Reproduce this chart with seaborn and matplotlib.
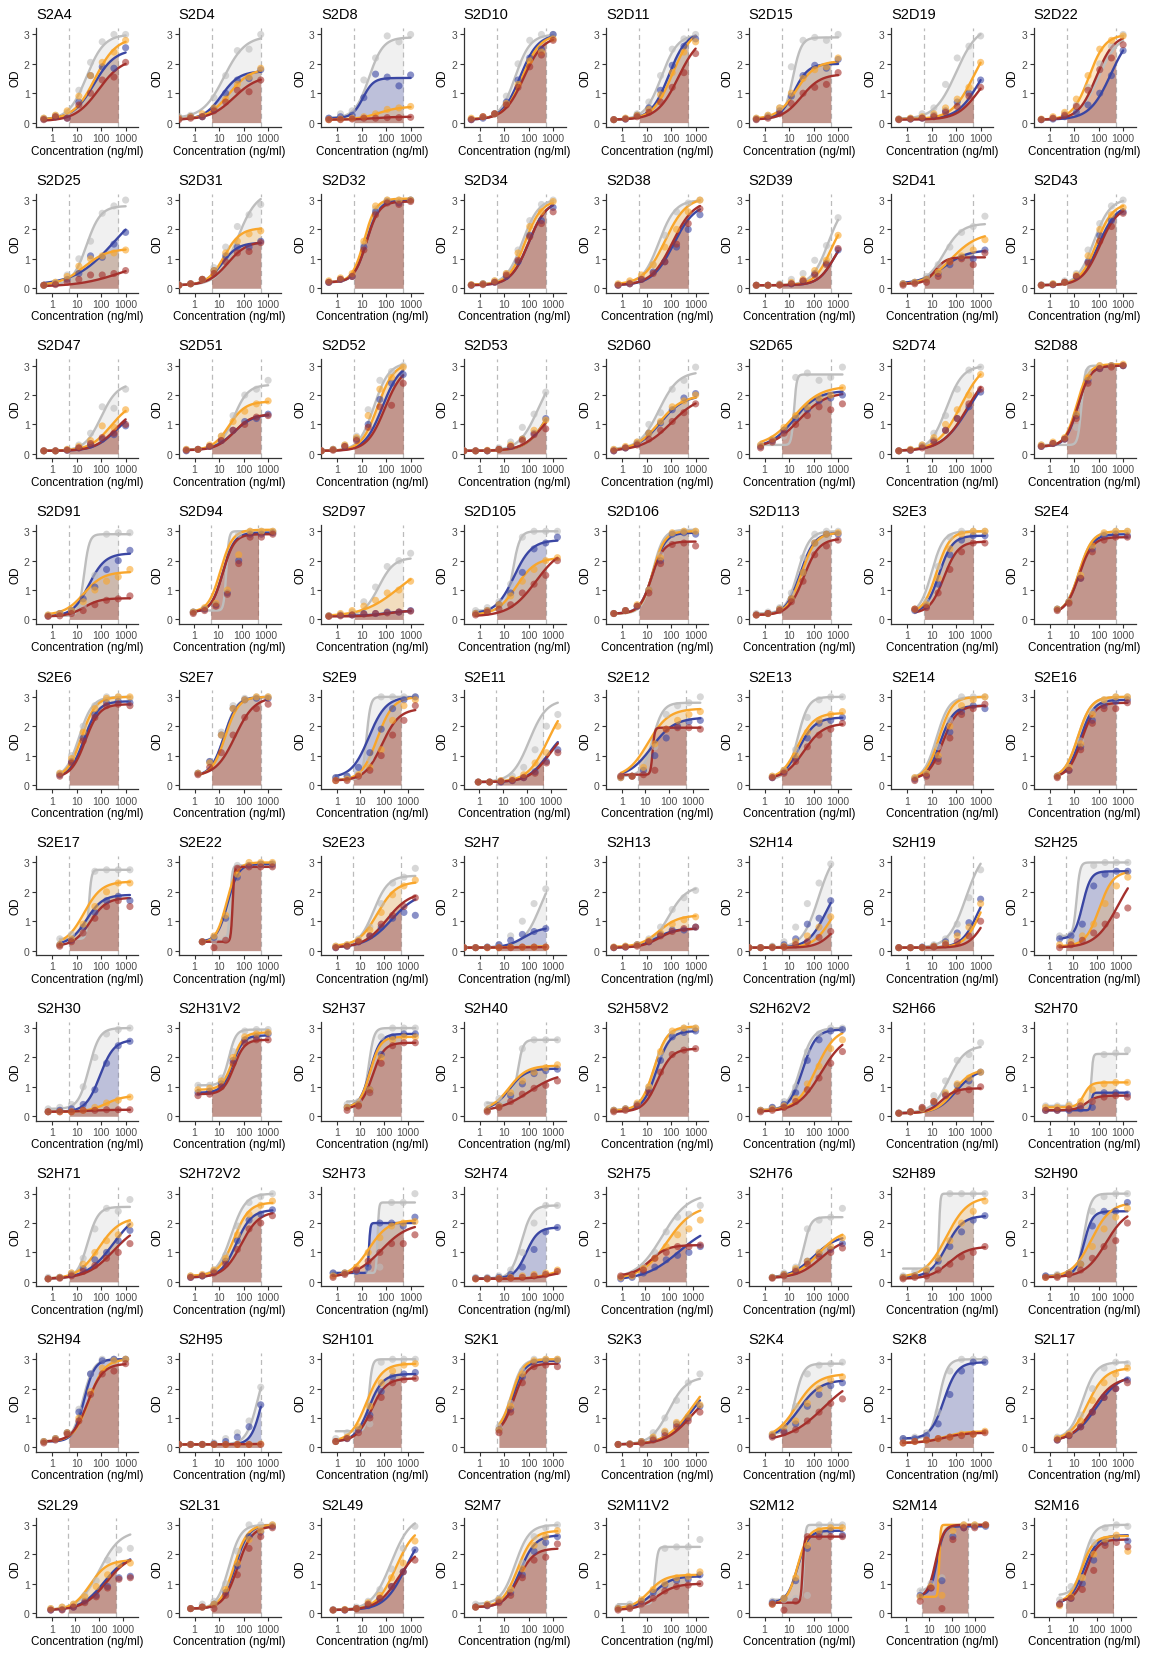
import numpy as np
import pandas as pd
import matplotlib
matplotlib.use("Agg")
import matplotlib.pyplot as plt
from matplotlib.ticker import NullLocator, FixedLocator, FixedFormatter
import seaborn as sns

sns.set_theme(style="white")
plt.rcParams["font.family"] = ["Liberation Sans", "DejaVu Sans"]

# ---------------- data ----------------
names = ["S2A4", "S2D4", "S2D8", "S2D10", "S2D11", "S2D15", "S2D19", "S2D22",
         "S2D25", "S2D31", "S2D32", "S2D34", "S2D38", "S2D39", "S2D41", "S2D43",
         "S2D47", "S2D51", "S2D52", "S2D53", "S2D60", "S2D65", "S2D74", "S2D88",
         "S2D91", "S2D94", "S2D97", "S2D105", "S2D106", "S2D113", "S2E3", "S2E4",
         "S2E6", "S2E7", "S2E9", "S2E11", "S2E12", "S2E13", "S2E14", "S2E16",
         "S2E17", "S2E22", "S2E23", "S2H7", "S2H13", "S2H14", "S2H19", "S2H25",
         "S2H30", "S2H31V2", "S2H37", "S2H40", "S2H58V2", "S2H62V2", "S2H66", "S2H70",
         "S2H71", "S2H72V2", "S2H73", "S2H74", "S2H75", "S2H76", "S2H89", "S2H90",
         "S2H94", "S2H95", "S2H101", "S2K1", "S2K3", "S2K4", "S2K8", "S2L17",
         "S2L29", "S2L31", "S2L49", "S2M7", "S2M11V2", "S2M12", "S2M14", "S2M16"]

# highest concentration of each 3-fold dilution series (ng/ml), 8 points per series
top_conc = [1000, 500, 1000, 1000, 1000, 1000, 1000, 1000,
            1000, 500, 1000, 1000, 1500, 1000, 1500, 1000,
            1000, 1000, 500, 500, 1000, 1500, 1000, 1000,
            1500, 2000, 1000, 1500, 1000, 1000, 1500, 1500,
            1500, 1000, 2000, 2000, 2000, 1500, 1500, 1500,
            1500, 1500, 2000, 500, 1000, 500, 1000, 2000,
            1500, 1000, 2000, 1500, 1000, 1500, 1000, 1500,
            1500, 1500, 1500, 1500, 2000, 1500, 1500, 1500,
            1000, 500, 2000, 1500, 1500, 1500, 1500, 1500,
            2000, 1500, 1500, 1500, 1500, 1500, 3000, 2000]

# fitted 4PL parameters: (bottom, top, log10 EC50, hill)
fit_gray = [
    (0.10, 3.00, 1.40, 1.2), (0.15, 2.95, 1.20, 1.0), (0.15, 2.90, 1.30, 1.5), (0.10, 3.00, 1.45, 1.4),
    (0.10, 3.00, 1.60, 1.3), (0.15, 2.90, 1.15, 2.5), (0.12, 3.30, 2.00, 1.0), (0.10, 3.00, 2.00, 1.1),
    (0.10, 2.80, 1.40, 1.5), (0.10, 3.30, 1.75, 1.1), (0.20, 3.00, 1.15, 1.9), (0.12, 3.05, 1.75, 1.3),
    (0.12, 3.00, 1.50, 1.3), (0.10, 3.00, 2.60, 1.3), (0.15, 2.20, 1.50, 1.2), (0.10, 3.05, 1.80, 1.3),
    (0.10, 2.40, 2.00, 1.3), (0.15, 2.35, 1.60, 1.5), (0.10, 3.10, 1.50, 1.4), (0.10, 3.00, 2.40, 1.1),
    (0.15, 2.80, 1.50, 1.1), (0.30, 2.70, 1.20, 8.0), (0.10, 3.00, 1.60, 1.3), (0.30, 3.00, 1.30, 6.0),
    (0.12, 2.90, 1.30, 4.0), (0.30, 3.00, 1.35, 8.0), (0.12, 2.10, 1.70, 1.4), (0.30, 3.00, 1.35, 3.0),
    (0.20, 3.05, 1.25, 2.0), (0.20, 3.00, 1.35, 1.8), (0.20, 3.00, 1.00, 1.8), (0.20, 3.00, 1.20, 1.6),
    (0.25, 3.00, 1.10, 1.6), (0.30, 3.00, 1.20, 1.7), (0.20, 3.00, 1.25, 5.0), (0.10, 2.90, 2.10, 1.2),
    (0.30, 2.80, 1.30, 2.0), (0.20, 3.00, 1.35, 2.0), (0.20, 3.00, 1.20, 1.7), (0.25, 3.00, 1.15, 1.6),
    (0.40, 2.75, 1.50, 8.0), (0.35, 2.90, 1.45, 10.0), (0.15, 2.55, 1.55, 1.4), (0.10, 3.00, 2.50, 1.2),
    (0.12, 2.20, 1.90, 1.2), (0.10, 3.50, 2.20, 1.3), (0.10, 3.50, 2.40, 1.2), (0.50, 3.00, 1.15, 6.0),
    (0.25, 3.00, 1.50, 2.0), (1.05, 2.95, 1.40, 3.0), (0.50, 3.00, 1.35, 4.0), (0.45, 2.60, 1.55, 4.0),
    (0.20, 3.00, 1.30, 1.7), (0.20, 3.00, 1.45, 1.7), (0.12, 2.40, 1.70, 1.3), (0.35, 2.12, 1.70, 12.0),
    (0.10, 2.55, 1.45, 2.0), (0.20, 3.00, 1.50, 1.5), (0.30, 2.70, 1.65, 15.0), (0.10, 2.60, 1.70, 2.0),
    (0.10, 3.00, 1.70, 0.8), (0.15, 2.20, 1.60, 3.0), (0.45, 3.00, 1.30, 15.0), (0.20, 3.00, 1.40, 3.0),
    (0.20, 3.00, 1.25, 2.0), (0.10, 3.30, 2.60, 1.8), (0.55, 3.00, 1.35, 6.0), (0.60, 3.00, 1.30, 2.0),
    (0.10, 2.40, 1.90, 1.2), (0.45, 2.85, 1.25, 2.5), (0.30, 3.00, 1.30, 2.5), (0.30, 2.90, 1.35, 1.6),
    (0.10, 2.80, 2.00, 1.0), (0.15, 3.00, 1.40, 1.8), (0.10, 3.30, 2.20, 1.1), (0.30, 3.00, 1.45, 1.5),
    (0.30, 2.25, 1.35, 8.0), (0.45, 3.00, 1.60, 12.0), (0.75, 3.00, 1.35, 3.0), (0.60, 3.00, 1.45, 2.0)]

fit_blue = [
    (0.10, 2.50, 1.70, 1.0), (0.10, 1.75, 1.10, 1.2), (0.15, 1.52, 1.05, 2.0), (0.10, 3.00, 1.65, 1.2),
    (0.10, 3.10, 1.90, 1.2), (0.12, 2.00, 1.20, 1.5), (0.12, 2.50, 2.90, 1.0), (0.10, 3.20, 2.50, 1.0),
    (0.10, 3.00, 2.50, 0.55), (0.10, 1.55, 1.10, 1.3), (0.20, 3.00, 1.20, 1.7), (0.10, 3.00, 2.00, 1.2),
    (0.10, 2.90, 2.10, 1.0), (0.10, 2.00, 2.85, 1.3), (0.15, 1.30, 1.50, 0.9), (0.10, 2.85, 2.00, 1.2),
    (0.10, 1.50, 2.60, 1.0), (0.12, 1.35, 1.60, 1.1), (0.10, 3.10, 1.85, 1.2), (0.10, 2.50, 2.80, 1.0),
    (0.10, 2.00, 1.55, 0.9), (0.20, 2.15, 1.20, 0.9), (0.10, 3.00, 2.50, 0.8), (0.25, 3.00, 1.15, 1.8),
    (0.10, 2.25, 1.50, 1.3), (0.25, 2.95, 1.20, 1.8), (0.12, 0.30, 2.00, 1.0), (0.20, 2.70, 1.40, 1.2),
    (0.20, 2.95, 1.25, 1.7), (0.15, 2.95, 1.45, 1.5), (0.20, 2.85, 1.30, 1.6), (0.20, 2.90, 1.20, 1.6),
    (0.25, 2.85, 1.30, 1.5), (0.30, 3.00, 1.20, 1.6), (0.25, 3.00, 1.35, 1.2), (0.10, 2.00, 2.90, 1.0),
    (0.25, 2.30, 1.25, 0.9), (0.20, 2.30, 1.40, 1.3), (0.20, 2.70, 1.35, 1.6), (0.25, 2.90, 1.25, 1.6),
    (0.20, 1.90, 1.40, 1.3), (0.30, 2.95, 1.35, 2.0), (0.10, 2.00, 2.30, 0.8), (0.10, 0.80, 1.80, 1.2),
    (0.10, 0.75, 1.40, 1.2), (0.10, 2.50, 2.50, 1.2), (0.10, 2.50, 2.90, 1.3), (0.40, 2.70, 1.40, 2.5),
    (0.15, 2.60, 1.95, 1.5), (0.80, 2.75, 1.55, 2.0), (0.30, 2.80, 1.40, 2.0), (0.20, 1.62, 1.20, 1.3),
    (0.20, 2.90, 1.40, 1.6), (0.20, 2.95, 1.55, 1.6), (0.10, 1.60, 2.00, 1.1), (0.20, 0.80, 1.70, 12.0),
    (0.10, 2.50, 2.50, 0.8), (0.15, 2.45, 1.70, 1.4), (0.30, 2.00, 1.30, 15.0), (0.12, 1.85, 1.90, 1.8),
    (0.05, 2.00, 2.40, 0.6), (0.12, 1.60, 2.00, 0.9), (0.15, 2.25, 1.60, 1.3), (0.20, 2.40, 1.40, 2.5),
    (0.20, 3.00, 1.30, 2.0), (0.10, 3.00, 2.75, 2.0), (0.20, 2.50, 1.35, 1.5), (0.50, 2.95, 1.35, 1.8),
    (0.10, 2.50, 2.90, 0.8), (0.30, 2.30, 1.40, 1.0), (0.30, 2.90, 1.50, 1.6), (0.20, 2.50, 1.90, 0.9),
    (0.10, 2.00, 2.20, 0.9), (0.15, 3.00, 1.65, 1.6), (0.10, 3.00, 2.80, 1.0), (0.20, 2.65, 1.65, 1.4),
    (0.15, 1.25, 1.30, 1.2), (0.35, 2.80, 1.35, 2.0), (0.60, 2.95, 1.35, 3.0), (0.30, 2.65, 1.45, 1.5)]

fit_orange = [
    (0.10, 2.90, 1.75, 1.0), (0.10, 1.85, 1.40, 1.0), (0.10, 0.55, 1.70, 1.0), (0.12, 3.00, 1.75, 1.2),
    (0.10, 3.20, 2.05, 1.1), (0.12, 2.10, 1.30, 1.1), (0.12, 3.00, 2.70, 1.0), (0.10, 3.00, 1.60, 1.3),
    (0.10, 1.35, 1.30, 0.9), (0.10, 2.05, 1.20, 1.3), (0.20, 3.05, 1.10, 1.8), (0.12, 3.00, 1.85, 1.3),
    (0.12, 3.10, 1.75, 1.0), (0.10, 2.50, 2.70, 1.3), (0.10, 1.90, 1.80, 0.8), (0.10, 2.90, 1.90, 1.3),
    (0.10, 1.80, 2.40, 1.0), (0.12, 1.78, 1.40, 1.3), (0.10, 3.10, 1.65, 1.3), (0.10, 2.50, 2.80, 1.0),
    (0.10, 2.00, 1.50, 0.9), (0.25, 2.30, 1.20, 0.8), (0.10, 3.20, 2.20, 0.9), (0.25, 3.05, 1.10, 1.8),
    (0.15, 1.62, 1.30, 1.1), (0.25, 3.05, 1.10, 1.7), (0.10, 2.00, 2.50, 0.6), (0.15, 2.10, 1.50, 1.1),
    (0.20, 3.00, 1.25, 1.8), (0.15, 2.95, 1.50, 1.5), (0.20, 3.00, 1.20, 1.6), (0.20, 3.00, 1.20, 1.6),
    (0.25, 3.00, 1.20, 1.5), (0.30, 3.00, 1.25, 1.6), (0.15, 3.00, 1.70, 1.3), (0.10, 3.00, 2.90, 1.0),
    (0.25, 2.60, 1.10, 1.0), (0.20, 2.45, 1.35, 1.3), (0.20, 3.00, 1.30, 1.6), (0.25, 3.00, 1.15, 1.6),
    (0.20, 2.35, 1.30, 1.2), (0.25, 3.00, 1.30, 2.0), (0.15, 2.35, 1.70, 1.1), (0.10, 0.15, 1.50, 1.0),
    (0.12, 1.20, 1.50, 1.1), (0.10, 2.00, 2.70, 1.2), (0.10, 2.50, 3.00, 1.3), (0.15, 2.70, 2.10, 1.5),
    (0.15, 0.70, 2.20, 1.2), (0.90, 2.85, 1.55, 2.0), (0.30, 2.70, 1.40, 2.0), (0.20, 1.72, 1.20, 1.2),
    (0.20, 3.05, 1.30, 1.6), (0.20, 3.00, 2.10, 1.1), (0.10, 1.60, 1.90, 1.2), (0.30, 1.15, 1.40, 3.0),
    (0.10, 2.20, 1.90, 1.0), (0.20, 2.70, 1.60, 1.4), (0.15, 2.10, 1.30, 1.1), (0.10, 0.50, 3.00, 1.0),
    (0.10, 2.60, 1.90, 0.8), (0.12, 1.80, 2.20, 0.9), (0.15, 2.90, 1.60, 1.0), (0.15, 2.70, 1.70, 1.1),
    (0.20, 3.00, 1.50, 1.4), (0.10, 0.12, 2.00, 1.0), (0.20, 2.85, 1.25, 1.3), (0.50, 3.00, 1.30, 1.8),
    (0.10, 2.50, 2.80, 0.85), (0.30, 2.50, 1.30, 1.0), (0.15, 0.55, 1.50, 1.0), (0.25, 2.70, 1.55, 1.2),
    (0.10, 1.80, 1.60, 1.2), (0.15, 3.00, 1.60, 1.6), (0.10, 3.00, 2.40, 1.1), (0.20, 2.80, 1.55, 1.4),
    (0.15, 1.30, 1.10, 1.3), (0.30, 2.90, 1.35, 2.0), (0.55, 3.00, 1.45, 15.0), (0.35, 2.62, 1.35, 1.7)]

fit_red = [
    (0.05, 2.20, 1.90, 0.9), (0.10, 1.60, 1.60, 0.9), (0.10, 0.20, 1.50, 1.0), (0.10, 2.95, 1.80, 1.1),
    (0.10, 3.00, 2.30, 1.0), (0.10, 1.65, 1.50, 1.1), (0.10, 2.00, 2.90, 1.0), (0.10, 3.00, 1.90, 1.2),
    (0.05, 1.00, 2.80, 0.5), (0.10, 1.60, 1.35, 1.1), (0.20, 2.95, 1.20, 1.7), (0.10, 3.00, 2.00, 1.2),
    (0.10, 3.00, 2.05, 1.0), (0.10, 2.00, 2.85, 1.3), (0.15, 1.05, 1.15, 2.0), (0.10, 2.80, 2.05, 1.2),
    (0.10, 1.60, 2.60, 1.0), (0.12, 1.35, 1.60, 1.2), (0.10, 3.00, 1.95, 1.2), (0.10, 1.80, 2.60, 1.0),
    (0.10, 2.00, 2.00, 0.75), (0.20, 2.10, 1.40, 0.8), (0.10, 3.00, 2.45, 0.85), (0.25, 3.00, 1.15, 1.7),
    (0.10, 0.72, 1.30, 1.3), (0.25, 2.90, 1.20, 1.8), (0.10, 0.30, 2.00, 1.0), (0.10, 2.50, 2.30, 0.8),
    (0.20, 2.65, 1.20, 1.8), (0.15, 2.75, 1.60, 1.4), (0.20, 2.65, 1.50, 1.5), (0.20, 2.80, 1.20, 1.6),
    (0.25, 2.75, 1.35, 1.5), (0.30, 3.00, 1.65, 1.1), (0.15, 2.60, 1.90, 1.2), (0.10, 2.00, 2.95, 1.0),
    (0.35, 1.95, 1.30, 10.0), (0.20, 2.10, 1.60, 1.1), (0.20, 2.70, 1.45, 1.5), (0.25, 2.80, 1.30, 1.6),
    (0.15, 1.80, 1.55, 1.3), (0.30, 2.85, 1.55, 12.0), (0.10, 2.00, 2.10, 0.9), (0.10, 0.12, 1.50, 1.0),
    (0.10, 0.75, 1.50, 1.2), (0.10, 1.20, 2.80, 1.3), (0.10, 2.00, 3.20, 1.3), (0.10, 3.00, 2.90, 0.9),
    (0.15, 0.22, 1.50, 1.0), (0.75, 2.60, 1.60, 2.0), (0.25, 2.50, 1.50, 1.8), (0.15, 1.50, 2.00, 0.7),
    (0.15, 2.30, 1.45, 1.5), (0.15, 2.80, 2.30, 0.9), (0.10, 0.95, 1.40, 1.5), (0.20, 0.70, 1.50, 2.0),
    (0.10, 2.00, 2.50, 0.8), (0.15, 2.40, 1.90, 1.2), (0.15, 2.00, 1.80, 0.8), (0.10, 0.40, 3.00, 1.0),
    (0.20, 1.25, 1.20, 1.2), (0.12, 1.50, 2.30, 0.9), (0.10, 1.20, 1.70, 1.1), (0.15, 2.50, 2.30, 1.0),
    (0.20, 2.85, 1.45, 1.4), (0.10, 0.12, 2.00, 1.0), (0.20, 2.35, 1.45, 1.4), (0.45, 2.85, 1.40, 1.7),
    (0.10, 2.00, 2.80, 0.85), (0.20, 2.50, 2.40, 0.6), (0.15, 0.50, 1.50, 1.0), (0.20, 2.40, 1.75, 1.0),
    (0.10, 2.00, 2.30, 0.9), (0.15, 2.95, 1.75, 1.5), (0.10, 2.30, 2.50, 1.0), (0.20, 2.20, 1.60, 1.4),
    (0.10, 1.00, 1.40, 1.1), (0.35, 2.60, 1.55, 12.0), (0.55, 3.00, 1.30, 2.5), (0.40, 2.50, 1.55, 1.8)]

# measured OD values, lowest to highest concentration (None = not measured)
od_gray = [
    [0.15, 0.25, 0.35, 1.1, 2.05, 2.75, 3.0, 3.0], [0.2, 0.25, 0.2, 0.85, 1.6, 2.45, 2.5, 3.0],
    [0.15, 0.3, 0.4, 1.45, 2.2, 2.95, 2.75, 3.0], [0.12, 0.2, 0.3, 0.9, 2.0, 2.8, 3.0, 3.0],
    [0.1, 0.15, 0.3, 0.7, 1.6, 2.5, 2.85, 3.0], [0.15, 0.25, 0.5, 1.9, 2.8, 2.9, 2.8, 3.0],
    [0.1, 0.15, 0.3, 0.5, 1.3, 2.2, 2.6, 2.95], [0.1, 0.15, 0.3, 0.6, 1.2, 2.0, 2.6, 3.0],
    [0.1, 0.2, 0.45, 1.0, 1.6, 2.55, 2.8, 3.0], [0.12, 0.15, 0.3, 0.7, 1.4, 2.1, 2.5, 2.85],
    [0.2, 0.3, 0.4, 1.5, 2.7, 3.0, 3.0, 3.0], [0.12, 0.15, 0.25, 0.5, 1.3, 2.3, 2.85, 3.0],
    [0.12, 0.2, 0.35, 0.8, 1.8, 2.6, 2.9, 3.0], [0.1, 0.1, 0.15, 0.3, 0.5, 0.95, 1.45, 2.4],
    [0.15, 0.2, 0.4, 0.8, 1.4, 1.9, 2.1, 2.45], [0.12, 0.15, 0.25, 0.5, 1.3, 2.2, 2.8, 3.0],
    [0.1, 0.1, 0.15, 0.3, 0.7, 1.6, 1.55, 2.2], [0.15, 0.15, 0.25, 0.6, 1.3, 2.0, 2.2, 2.5],
    [0.1, 0.15, 0.3, 0.6, 1.5, 2.5, 2.8, 3.0], [0.1, 0.1, 0.1, 0.2, 0.4, 0.9, 1.35, 2.1],
    [0.15, 0.2, 0.4, 1.0, 1.4, 2.2, 2.5, 2.95], [0.3, 0.4, 0.6, 2.6, 2.75, 2.5, 2.6, 2.95],
    [0.1, 0.15, 0.3, 0.7, 1.3, 2.2, 2.85, 2.95], [0.3, 0.35, 0.5, 0.9, 2.8, 3.0, 3.0, 3.0],
    [0.15, 0.2, 0.3, 0.45, 1.5, 2.9, 2.95, 2.95], [0.25, 0.35, 0.5, 0.85, 2.9, 3.0, 3.0, 3.0],
    [0.12, 0.15, 0.25, 0.6, 1.1, 1.8, 2.0, 2.25], [0.3, 0.4, 0.6, 1.2, 2.8, 3.0, 3.0, 3.0],
    [0.2, 0.3, 0.45, 1.0, 2.2, 2.9, 3.0, 3.0], [0.2, 0.25, 0.4, 0.9, 2.1, 2.9, 3.0, 3.0],
    [None, 0.35, 0.6, 1.8, 2.8, 3.0, 3.0, 3.0], [None, 0.35, 0.6, 1.5, 2.4, 2.9, 3.0, 3.0],
    [None, 0.4, 1.0, 2.0, 2.7, 3.0, 3.0, 2.95], [None, 0.4, 0.8, 1.8, 2.7, 2.95, 3.0, 3.0],
    [0.25, 0.3, 0.4, 0.9, 3.0, 3.0, 3.0, 3.0], [0.1, 0.1, 0.15, 0.3, 0.6, 1.2, 2.0, 2.4],
    [0.3, 0.3, 0.5, 1.3, 2.4, 2.7, 2.8, 3.0], [None, 0.3, 0.5, 1.2, 2.3, 2.9, 3.0, 3.0],
    [None, 0.25, 0.4, 1.3, 2.2, 3.0, 3.0, 3.0], [None, 0.3, 0.6, 1.5, 2.5, 2.9, 3.0, 3.0],
    [None, 0.4, 0.55, 0.6, 2.7, 2.75, 2.75, 2.75], [None, 0.3, 0.35, 0.4, 2.9, 2.9, 2.9, 2.9],
    [0.15, 0.2, 0.4, 0.8, 1.6, 2.3, 2.5, 2.8], [0.1, 0.1, 0.12, 0.2, 0.5, 1.0, 1.6, 2.1],
    [0.12, 0.15, 0.2, 0.4, 0.8, 1.4, 1.8, 2.05], [0.1, 0.1, 0.15, 0.3, 0.8, 1.6, 2.3, 2.95],
    [0.1, 0.1, 0.12, 0.2, 0.4, 0.9, 1.8, 2.75], [None, 0.5, 0.55, 0.7, 2.9, 3.0, 3.0, 3.0],
    [0.25, 0.3, 0.4, 1.0, 2.0, 2.8, 2.95, 3.0], [None, 1.05, 1.05, 1.3, 2.2, 2.9, 2.95, 2.95],
    [None, 0.4, 0.5, 0.8, 2.7, 3.0, 3.0, 3.0], [None, 0.4, 0.6, 0.7, 2.3, 2.6, 2.6, 2.6],
    [0.2, 0.25, 0.4, 1.0, 2.1, 2.8, 3.0, 3.0], [0.2, 0.3, 0.5, 1.0, 2.2, 2.8, 3.0, 3.0],
    [0.12, 0.15, 0.3, 0.7, 1.2, 1.9, 2.1, 2.5], [0.35, 0.35, 0.4, 0.4, 0.5, 2.1, 2.15, 2.25],
    [0.15, 0.15, 0.3, 0.8, 1.8, 2.5, 2.4, 2.8], [0.2, 0.2, 0.4, 0.9, 1.9, 2.7, 2.9, 3.0],
    [0.3, 0.3, 0.35, 0.4, 0.5, 2.7, 2.7, 3.0], [0.15, 0.15, 0.2, 0.4, 1.0, 2.0, 2.6, 2.6],
    [0.15, 0.2, 0.5, 1.0, 1.7, 2.2, 2.3, 2.6], [None, 0.15, 0.3, 0.5, 1.8, 2.1, 2.2, 2.5],
    [0.2, 0.35, 0.45, 0.5, 3.0, 3.0, 3.0, 3.0], [0.2, 0.25, 0.3, 0.6, 2.4, 2.9, 3.0, 3.0],
    [0.2, 0.3, 0.5, 1.3, 2.5, 3.0, 3.0, 3.0], [0.1, 0.1, 0.1, 0.15, 0.3, 0.5, 0.9, 2.05],
    [0.3, 0.5, 0.55, 0.8, 2.9, 3.0, 3.0, 3.0], [None, None, 0.7, 1.5, 2.6, 3.0, 3.0, 3.0],
    [0.1, 0.12, 0.2, 0.5, 1.0, 1.6, 2.2, 2.5], [None, 0.45, 0.6, 1.4, 2.5, 2.8, 2.85, 2.9],
    [0.3, 0.35, 0.5, 1.2, 2.6, 3.0, 3.0, 3.0], [None, 0.35, 0.5, 1.1, 2.0, 2.7, 2.9, 2.85],
    [0.15, 0.2, 0.3, 0.6, 1.1, 1.8, 2.15, 2.2], [0.15, 0.3, 0.4, 1.0, 2.1, 3.0, 3.0, 3.0],
    [0.12, 0.12, 0.2, 0.4, 0.8, 1.5, 2.2, 2.95], [0.3, 0.3, 0.5, 0.8, 1.7, 2.6, 2.9, 3.0],
    [0.2, 0.3, 0.3, 0.6, 2.2, 2.25, 2.25, 2.5], [None, 0.4, 0.45, 0.5, 0.6, 3.0, 3.0, 3.0],
    [None, 0.75, 1.0, 1.2, 2.7, 3.0, 3.0, 3.0], [None, 0.45, 0.9, 1.2, 2.4, 2.9, 3.0, 2.95]]

od_blue = [
    [0.12, 0.2, 0.15, 0.7, 1.6, 1.9, 1.85, 2.55], [0.15, 0.2, 0.2, 0.45, 1.0, 1.45, 1.5, 1.8],
    [0.15, 0.2, 0.25, 0.85, 1.65, 1.55, 1.25, 1.62], [0.1, 0.15, 0.3, 0.7, 1.45, 2.2, 2.5, 3.0],
    [0.1, 0.12, 0.25, 0.5, 1.1, 1.95, 2.6, 2.85], [0.12, 0.2, 0.4, 0.9, 1.6, 1.95, 1.85, 2.15],
    [0.12, 0.12, 0.15, 0.25, 0.4, 0.7, 1.0, 1.45], [0.1, 0.12, 0.2, 0.35, 0.6, 1.0, 1.6, 2.45],
    [0.1, 0.15, 0.3, 0.5, 1.1, 1.05, 1.5, 1.9], [0.1, 0.15, 0.3, 0.6, 1.1, 1.4, 1.4, 1.6],
    [0.2, 0.3, 0.4, 1.4, 2.6, 2.95, 2.9, 3.0], [0.1, 0.15, 0.2, 0.4, 0.9, 1.8, 2.3, 2.75],
    [0.1, 0.15, 0.3, 0.55, 0.9, 1.4, 2.0, 2.5], [0.1, 0.1, 0.12, 0.15, 0.25, 0.5, 0.85, 1.3],
    [0.15, 0.2, 0.3, 0.5, 0.8, 1.05, 1.0, 1.3], [0.1, 0.12, 0.2, 0.4, 0.9, 1.8, 2.3, 2.6],
    [0.1, 0.1, 0.12, 0.2, 0.3, 0.5, 0.65, 0.95], [0.1, 0.15, 0.25, 0.45, 0.8, 1.1, 1.2, 1.35],
    [0.1, 0.15, 0.25, 0.5, 1.0, 1.85, 2.4, 2.7], [0.1, 0.1, 0.1, 0.15, 0.25, 0.5, 0.7, 1.2],
    [0.1, 0.2, 0.35, 0.7, 1.05, 1.5, 1.9, 2.05], [0.25, 0.45, 0.8, 1.2, 1.5, 1.8, 1.9, 2.0],
    [0.1, 0.12, 0.25, 0.45, 0.8, 1.2, 1.6, 2.1], [0.25, 0.35, 0.5, 1.3, 2.5, 2.9, 3.0, 3.0],
    [0.12, 0.2, 0.3, 0.7, 1.1, 1.7, 2.0, 2.35], [0.25, 0.35, 0.5, 0.9, 2.0, 2.9, 2.9, 2.95],
    [0.12, 0.15, 0.15, 0.2, 0.2, 0.25, 0.25, 0.3], [0.2, 0.3, 0.5, 0.9, 1.6, 2.4, 2.6, 2.8],
    [0.2, 0.3, 0.45, 1.0, 2.0, 2.9, 2.95, 2.9], [0.15, 0.2, 0.35, 0.7, 1.6, 2.6, 2.9, 2.9],
    [None, 0.3, 0.45, 1.2, 2.2, 2.7, 2.85, 2.85], [None, 0.35, 0.6, 1.4, 2.4, 2.85, 2.9, 2.85],
    [None, 0.35, 0.8, 1.6, 2.4, 2.8, 2.85, 2.8], [None, 0.4, 0.8, 1.7, 2.6, 2.9, 2.95, 2.95],
    [0.25, 0.3, 0.6, 1.1, 1.9, 2.6, 2.9, 3.0], [0.1, 0.1, 0.1, 0.15, 0.25, 0.45, 0.8, 1.2],
    [0.25, 0.3, 0.5, 1.0, 1.6, 2.0, 2.15, 2.2], [None, 0.25, 0.45, 0.9, 1.6, 2.1, 2.2, 2.3],
    [None, 0.2, 0.35, 0.9, 1.8, 2.5, 2.7, 2.6], [None, 0.3, 0.5, 1.3, 2.2, 2.7, 2.85, 2.9],
    [None, 0.2, 0.35, 0.8, 1.3, 1.7, 1.85, 1.7], [None, 0.3, 0.45, 1.1, 2.5, 2.9, 2.95, 2.95],
    [0.1, 0.15, 0.3, 0.5, 0.8, 1.1, 1.3, 1.2], [0.1, 0.1, 0.12, 0.2, 0.35, 0.55, 0.65, 0.75],
    [0.1, 0.12, 0.2, 0.3, 0.55, 0.7, 0.7, 0.8], [0.1, 0.1, 0.12, 0.2, 0.4, 0.9, 1.1, 1.7],
    [0.1, 0.1, 0.12, 0.15, 0.3, 0.6, 0.95, 1.75], [None, 0.4, 0.5, 0.9, 2.2, 2.6, 2.7, 2.7],
    [0.15, 0.2, 0.25, 0.4, 0.9, 1.8, 2.4, 2.55], [None, 0.8, 0.85, 1.1, 1.9, 2.6, 2.7, 2.8],
    [None, 0.3, 0.4, 0.9, 2.1, 2.7, 2.8, 2.8], [None, 0.2, 0.35, 0.7, 1.1, 1.45, 1.55, 1.6],
    [0.2, 0.25, 0.4, 0.9, 1.9, 2.7, 2.85, 2.9], [0.2, 0.3, 0.4, 0.8, 1.9, 2.6, 2.9, 2.95],
    [0.1, 0.15, 0.25, 0.45, 0.75, 1.05, 1.2, 1.5], [0.2, 0.2, 0.2, 0.25, 0.3, 0.8, 0.8, 0.75],
    [0.1, 0.15, 0.25, 0.45, 0.75, 1.0, 1.4, 1.75], [0.15, 0.2, 0.35, 0.7, 1.4, 2.1, 2.3, 2.45],
    [0.3, 0.3, 0.35, 0.5, 2.0, 2.0, 1.9, 2.2], [0.12, 0.12, 0.15, 0.25, 0.5, 1.1, 1.7, 1.85],
    [0.1, 0.15, 0.3, 0.5, 0.75, 0.9, 1.0, 1.2], [None, 0.15, 0.25, 0.4, 0.7, 0.95, 1.1, 1.3],
    [0.15, 0.2, 0.35, 0.7, 1.2, 1.7, 2.1, 2.25], [0.2, 0.2, 0.3, 0.6, 1.9, 2.4, 2.4, 2.7],
    [0.2, 0.3, 0.5, 1.2, 2.5, 2.95, 3.0, 3.0], [0.1, 0.1, 0.1, 0.12, 0.2, 0.35, 0.7, 1.45],
    [0.2, 0.3, 0.6, 1.1, 1.9, 2.4, 2.5, 2.55], [None, None, 0.6, 1.3, 2.4, 2.9, 2.95, 2.95],
    [0.1, 0.12, 0.2, 0.3, 0.5, 0.8, 1.0, 1.4], [None, 0.4, 0.55, 0.8, 1.4, 1.8, 2.1, 2.2],
    [0.3, 0.3, 0.4, 0.8, 1.8, 2.6, 2.9, 2.9], [None, 0.25, 0.4, 0.7, 1.2, 1.7, 2.0, 2.3],
    [0.1, 0.12, 0.2, 0.4, 0.6, 0.9, 1.2, 1.25], [0.15, 0.2, 0.3, 0.7, 1.6, 2.6, 2.75, 2.95],
    [0.1, 0.1, 0.15, 0.25, 0.5, 0.9, 1.4, 2.15], [0.2, 0.25, 0.4, 0.7, 1.3, 2.1, 2.4, 2.6],
    [0.15, 0.2, 0.4, 0.7, 0.95, 1.1, 1.15, 1.3], [None, 0.35, 0.5, 1.1, 2.2, 2.7, 2.8, 2.65],
    [None, 0.6, 0.85, 1.1, 2.6, 2.9, 2.95, 2.95], [None, 0.3, 0.5, 1.0, 1.8, 2.4, 2.55, 2.45]]

od_orange = [
    [0.15, 0.25, 0.4, 0.9, 1.6, 2.05, 2.4, 2.8], [0.15, 0.2, 0.3, 0.5, 0.8, 1.3, 1.55, 1.85],
    [0.1, 0.12, 0.15, 0.2, 0.3, 0.45, 0.5, 0.55], [0.15, 0.2, 0.3, 0.65, 1.3, 2.1, 2.4, 2.85],
    [0.1, 0.15, 0.25, 0.45, 0.95, 1.7, 2.4, 2.75], [0.15, 0.25, 0.5, 1.0, 1.5, 1.8, 1.9, 2.2],
    [0.12, 0.15, 0.2, 0.3, 0.5, 0.8, 1.2, 2.05], [0.12, 0.2, 0.35, 0.8, 1.6, 2.5, 2.8, 2.95],
    [0.1, 0.2, 0.4, 0.75, 1.0, 1.1, 1.2, 1.3], [0.1, 0.15, 0.3, 0.6, 1.2, 1.6, 1.85, 1.95],
    [0.25, 0.35, 0.5, 1.6, 2.8, 3.0, 3.0, 3.0], [0.12, 0.15, 0.25, 0.5, 1.2, 2.1, 2.6, 2.95],
    [0.15, 0.25, 0.45, 0.8, 1.4, 2.0, 2.6, 3.0], [0.1, 0.1, 0.12, 0.2, 0.3, 0.6, 0.95, 1.8],
    [0.15, 0.2, 0.3, 0.55, 0.9, 1.1, 1.3, 1.65], [0.1, 0.15, 0.2, 0.45, 1.1, 2.0, 2.5, 2.75],
    [0.1, 0.1, 0.15, 0.25, 0.45, 0.95, 0.9, 1.5], [0.15, 0.15, 0.3, 0.6, 1.1, 1.45, 1.7, 1.8],
    [0.1, 0.15, 0.3, 0.55, 1.3, 2.2, 2.6, 2.95], [0.1, 0.1, 0.12, 0.15, 0.3, 0.5, 0.8, 1.15],
    [0.15, 0.25, 0.4, 0.7, 1.1, 1.6, 1.8, 2.0], [0.3, 0.5, 0.9, 1.3, 1.6, 1.9, 2.0, 2.25],
    [0.1, 0.15, 0.3, 0.55, 1.0, 1.5, 2.0, 2.7], [0.3, 0.4, 0.55, 1.35, 2.6, 3.0, 3.0, 3.05],
    [0.15, 0.2, 0.3, 0.6, 1.0, 1.3, 1.45, 1.7], [0.25, 0.4, 0.55, 1.0, 2.2, 3.0, 3.0, 3.0],
    [0.12, 0.2, 0.3, 0.45, 0.65, 0.9, 1.0, 1.3], [0.2, 0.3, 0.5, 0.8, 1.3, 1.7, 2.0, 2.1],
    [0.2, 0.3, 0.5, 1.0, 2.1, 2.95, 3.0, 3.0], [0.15, 0.2, 0.35, 0.7, 1.6, 2.6, 2.9, 2.95],
    [None, 0.35, 0.5, 1.4, 2.4, 2.9, 3.0, 3.0], [None, 0.35, 0.6, 1.5, 2.5, 2.95, 3.0, 3.0],
    [None, 0.4, 0.9, 1.8, 2.6, 2.95, 3.0, 3.0], [None, 0.4, 0.75, 1.7, 2.6, 2.9, 3.0, 3.0],
    [0.15, 0.2, 0.35, 0.6, 1.2, 2.2, 2.7, 2.9], [0.1, 0.1, 0.15, 0.2, 0.35, 0.75, 1.1, 2.0],
    [0.25, 0.3, 0.6, 1.4, 1.9, 2.2, 2.4, 2.5], [None, 0.3, 0.5, 1.0, 1.8, 2.2, 2.4, 2.5],
    [None, 0.25, 0.4, 1.0, 2.0, 2.7, 2.9, 3.0], [None, 0.3, 0.6, 1.4, 2.4, 2.9, 3.0, 3.0],
    [None, 0.2, 0.4, 0.9, 1.5, 2.0, 2.3, 2.3], [None, 0.3, 0.5, 1.2, 2.6, 3.0, 3.0, 3.0],
    [0.15, 0.2, 0.35, 0.7, 1.3, 1.9, 2.2, 2.4], [0.1, 0.1, 0.1, 0.1, 0.12, 0.12, 0.12, 0.12],
    [0.12, 0.15, 0.2, 0.35, 0.6, 0.9, 1.05, 1.15], [0.1, 0.1, 0.12, 0.15, 0.3, 0.5, 0.8, 1.15],
    [0.1, 0.1, 0.1, 0.15, 0.25, 0.5, 0.8, 1.6], [None, 0.2, 0.3, 0.5, 0.9, 1.6, 2.2, 2.5],
    [0.15, 0.15, 0.15, 0.2, 0.3, 0.45, 0.55, 0.65], [None, 0.9, 0.95, 1.2, 2.0, 2.7, 2.8, 2.85],
    [None, 0.3, 0.4, 0.9, 2.0, 2.6, 2.7, 2.7], [None, 0.2, 0.35, 0.8, 1.2, 1.5, 1.65, 1.75],
    [0.2, 0.25, 0.45, 1.0, 2.2, 2.9, 3.0, 3.0], [0.2, 0.25, 0.35, 0.6, 1.1, 1.7, 2.3, 2.6],
    [0.1, 0.15, 0.25, 0.5, 0.8, 1.1, 1.3, 1.5], [0.3, 0.3, 0.35, 0.5, 0.9, 1.1, 1.15, 1.15],
    [0.1, 0.15, 0.3, 0.6, 1.0, 1.4, 1.6, 1.95], [0.2, 0.25, 0.4, 0.8, 1.6, 2.3, 2.6, 2.75],
    [0.2, 0.3, 0.5, 1.0, 1.5, 1.9, 2.0, 2.05], [0.1, 0.1, 0.12, 0.15, 0.2, 0.25, 0.3, 0.4],
    [0.15, 0.2, 0.45, 0.8, 1.2, 1.6, 1.8, 2.1], [None, 0.15, 0.25, 0.45, 0.7, 1.0, 1.2, 1.5],
    [0.15, 0.2, 0.4, 0.8, 1.4, 2.0, 2.4, 2.75], [0.15, 0.2, 0.3, 0.6, 1.2, 1.8, 2.2, 2.5],
    [0.2, 0.3, 0.5, 1.0, 1.9, 2.7, 2.95, 3.0], [0.1, 0.1, 0.1, 0.1, 0.1, 0.1, 0.1, 0.12],
    [0.2, 0.35, 0.7, 1.4, 2.2, 2.6, 2.8, 2.85], [None, None, 0.6, 1.4, 2.5, 2.95, 3.0, 3.0],
    [0.1, 0.12, 0.2, 0.35, 0.55, 0.85, 1.05, 1.45], [None, 0.45, 0.7, 0.9, 1.5, 2.0, 2.3, 2.4],
    [0.15, 0.2, 0.25, 0.3, 0.35, 0.45, 0.45, 0.55], [None, 0.3, 0.45, 0.9, 1.6, 2.2, 2.5, 2.7],
    [0.15, 0.2, 0.3, 0.55, 0.9, 1.3, 1.65, 1.7], [0.15, 0.2, 0.3, 0.8, 1.7, 2.5, 2.8, 3.0],
    [0.1, 0.12, 0.15, 0.35, 0.6, 1.2, 1.7, 2.45], [0.2, 0.3, 0.45, 0.8, 1.5, 2.3, 2.6, 2.8],
    [0.15, 0.2, 0.45, 0.8, 1.0, 1.2, 1.25, 1.4], [None, 0.3, 0.5, 1.2, 2.3, 2.8, 2.9, 2.9],
    [None, 0.55, 0.9, 0.6, 2.8, 3.0, 3.0, 3.0], [None, 0.25, 0.55, 1.2, 2.0, 2.5, 2.65, 2.1]]

od_red = [
    [0.1, 0.2, 0.15, 0.6, 1.0, 1.45, 1.55, 2.05], [0.1, 0.15, 0.2, 0.4, 0.7, 1.1, 1.05, 1.45],
    [0.1, 0.1, 0.12, 0.15, 0.15, 0.17, 0.17, 0.18], [0.1, 0.2, 0.3, 0.6, 1.2, 1.9, 2.3, 2.8],
    [0.1, 0.12, 0.2, 0.35, 0.7, 1.2, 1.7, 2.35], [0.1, 0.15, 0.3, 0.65, 1.0, 1.2, 1.3, 1.7],
    [0.1, 0.12, 0.15, 0.2, 0.35, 0.55, 0.9, 1.2], [0.1, 0.15, 0.25, 0.55, 1.1, 1.8, 2.2, 2.65],
    [0.1, 0.12, 0.2, 0.3, 0.45, 0.45, 0.5, 0.6], [0.1, 0.15, 0.3, 0.5, 0.9, 1.2, 1.25, 1.55],
    [0.2, 0.3, 0.4, 1.3, 2.5, 2.9, 2.85, 2.95], [0.1, 0.12, 0.2, 0.45, 0.95, 1.75, 2.2, 2.6],
    [0.1, 0.15, 0.3, 0.5, 0.9, 1.5, 2.2, 2.7], [0.1, 0.1, 0.1, 0.15, 0.25, 0.45, 0.8, 1.35],
    [0.1, 0.15, 0.2, 0.4, 0.9, 1.0, 0.8, 1.2], [0.1, 0.12, 0.2, 0.4, 0.85, 1.6, 2.1, 2.55],
    [0.1, 0.1, 0.12, 0.2, 0.35, 0.55, 0.7, 1.0], [0.12, 0.15, 0.25, 0.45, 0.8, 1.0, 1.25, 1.3],
    [0.1, 0.12, 0.25, 0.45, 0.9, 1.6, 1.65, 2.4], [0.1, 0.1, 0.1, 0.15, 0.25, 0.45, 0.65, 0.85],
    [0.1, 0.2, 0.3, 0.5, 0.8, 1.1, 1.4, 1.7], [0.2, 0.4, 0.7, 1.0, 1.3, 1.6, 1.5, 1.7],
    [0.1, 0.12, 0.2, 0.4, 0.8, 1.2, 1.7, 2.2], [0.25, 0.35, 0.5, 1.2, 2.4, 2.9, 2.95, 3.0],
    [0.1, 0.12, 0.2, 0.3, 0.5, 0.65, 0.7, 0.8], [0.2, 0.3, 0.45, 0.85, 1.9, 2.8, 2.8, 2.9],
    [0.1, 0.12, 0.15, 0.18, 0.2, 0.22, 0.25, 0.28], [0.15, 0.25, 0.35, 0.5, 0.9, 1.2, 1.5, 2.0],
    [0.2, 0.3, 0.45, 0.9, 1.9, 2.55, 2.6, 2.5], [0.15, 0.2, 0.3, 0.6, 1.3, 2.2, 2.5, 2.7],
    [None, 0.35, 0.4, 0.9, 1.7, 2.3, 2.6, 2.6], [None, 0.3, 0.55, 1.4, 2.3, 2.7, 2.8, 2.8],
    [None, 0.3, 0.75, 1.5, 2.3, 2.7, 2.75, 2.7], [None, 0.35, 0.6, 1.1, 1.7, 2.3, 2.6, 2.75],
    [0.15, 0.15, 0.3, 0.5, 1.0, 1.7, 2.2, 2.7], [0.1, 0.1, 0.12, 0.15, 0.25, 0.4, 0.75, 1.1],
    [0.3, 0.3, 0.35, 0.5, 1.9, 1.95, 1.95, 1.9], [None, 0.25, 0.4, 0.8, 1.3, 1.7, 1.9, 2.1],
    [None, 0.15, 0.3, 0.8, 1.6, 2.4, 2.6, 2.75], [None, 0.25, 0.5, 1.2, 2.1, 2.6, 2.6, 2.8],
    [None, 0.15, 0.3, 0.6, 1.1, 1.5, 1.7, 1.5], [None, 0.3, 0.1, 0.35, 2.8, 2.85, 2.85, 2.85],
    [0.1, 0.15, 0.3, 0.5, 0.9, 1.2, 1.5, 1.8], [0.1, 0.1, 0.1, 0.1, 0.1, 0.12, 0.12, 0.12],
    [0.1, 0.12, 0.15, 0.3, 0.5, 0.65, 0.75, 0.8], [0.1, 0.1, 0.1, 0.12, 0.2, 0.3, 0.45, 0.65],
    [0.1, 0.1, 0.1, 0.12, 0.2, 0.3, 0.5, 1.0], [None, 0.1, 0.2, 0.35, 0.6, 0.9, 1.2, 1.45],
    [0.15, 0.15, 0.15, 0.2, 0.2, 0.22, 0.22, 0.22], [None, 0.7, 0.75, 1.0, 1.8, 2.5, 2.6, 2.6],
    [None, 0.2, 0.35, 0.8, 1.8, 2.4, 2.5, 2.5], [None, 0.15, 0.3, 0.5, 0.75, 0.95, 1.05, 1.2],
    [0.15, 0.2, 0.35, 0.8, 1.5, 2.1, 2.25, 2.3], [0.15, 0.2, 0.3, 0.5, 0.9, 1.3, 1.8, 2.2],
    [0.1, 0.15, 0.3, 0.5, 0.7, 0.85, 0.9, 1.0], [0.2, 0.2, 0.25, 0.35, 0.5, 0.65, 0.7, 0.65],
    [0.1, 0.12, 0.2, 0.35, 0.55, 0.8, 1.0, 1.3], [0.15, 0.2, 0.3, 0.6, 1.1, 1.8, 2.0, 2.25],
    [0.15, 0.25, 0.4, 0.7, 1.0, 1.3, 1.3, 1.6], [0.1, 0.1, 0.1, 0.12, 0.15, 0.2, 0.25, 0.35],
    [0.2, 0.25, 0.4, 0.8, 1.0, 1.2, 1.2, 1.25], [None, 0.12, 0.2, 0.35, 0.6, 0.85, 1.0, 1.15],
    [0.1, 0.15, 0.2, 0.4, 0.6, 0.85, 1.0, 1.2], [0.15, 0.15, 0.25, 0.4, 0.8, 1.2, 1.4, 2.0],
    [0.15, 0.25, 0.45, 0.9, 1.8, 2.5, 2.6, 2.85], [0.1, 0.1, 0.1, 0.1, 0.1, 0.1, 0.1, 0.1],
    [0.2, 0.3, 0.5, 1.0, 1.7, 2.2, 2.3, 2.35], [None, None, 0.5, 1.2, 2.2, 2.75, 2.8, 2.75],
    [0.1, 0.1, 0.15, 0.25, 0.4, 0.7, 0.9, 1.2], [None, 0.35, 0.5, 0.6, 0.9, 1.2, 1.5, 1.65],
    [0.15, 0.2, 0.25, 0.3, 0.35, 0.4, 0.45, 0.5], [None, 0.25, 0.4, 0.7, 1.2, 1.7, 2.0, 2.2],
    [0.1, 0.1, 0.2, 0.35, 0.55, 0.85, 1.15, 1.2], [0.15, 0.2, 0.15, 0.6, 1.3, 2.2, 2.6, 2.9],
    [0.1, 0.1, 0.15, 0.3, 0.5, 0.9, 1.4, 1.8], [0.2, 0.25, 0.35, 0.6, 1.2, 1.8, 1.9, 2.35],
    [0.1, 0.15, 0.3, 0.5, 0.75, 0.9, 0.95, 1.0], [None, 0.3, 0.1, 0.4, 2.6, 2.6, 2.6, 2.6],
    [None, 0.4, 0.85, 0.15, 2.5, 2.9, 2.9, 3.0], [None, 0.3, 0.5, 0.8, 1.45, 2.3, 2.4, 2.25]]

series = ["gray", "blue", "orange", "red"]
fits = {"gray": fit_gray, "blue": fit_blue, "orange": fit_orange, "red": fit_red}
ods = {"gray": od_gray, "blue": od_blue, "orange": od_orange, "red": od_red}
palette = {"gray": "#BDBDBD", "blue": "#3A46A3", "orange": "#F9A62B", "red": "#A5302C"}
fill_alpha = {"gray": 0.22, "blue": 0.28, "orange": 0.25, "red": 0.25}
window = (5, 500)

# ---------------- figure ----------------
W, H = 1152, 1656
fig = plt.figure(figsize=(W / 100, H / 100), dpi=100)
col_w, row_h = 142.5, H / 10


def logistic(x, p):
    b, t, e, h = p
    return b + (t - b) / (1.0 + 10.0 ** ((e - np.log10(x)) * h))


for i, name in enumerate(names):
    r, c = divmod(i, 8)
    left = c * col_w + 36
    right = c * col_w + 138
    top = r * row_h + 29
    bottom = r * row_h + 128
    ax = fig.add_axes([left / W, 1 - bottom / H, (right - left) / W, (bottom - top) / H])
    ax.set_xscale("log")

    conc = top_conc[i] / 3.0 ** np.arange(7, -1, -1)

    curve_rows, pt_rows = [], []
    for s in series:
        vals = np.array([np.nan if v is None else v for v in ods[s][i]], dtype=float)
        ok = ~np.isnan(vals)
        xmin = conc[ok].min()
        xg = np.logspace(np.log10(xmin), np.log10(top_conc[i]), 220)
        yg = logistic(xg, fits[s][i])
        curve_rows.append(pd.DataFrame({"conc": xg, "od": yg, "series": s}))
        pt_rows.append(pd.DataFrame({"conc": conc[ok], "od": vals[ok], "series": s}))
        lo, hi = max(window[0], xmin), min(window[1], top_conc[i])
        if hi > lo:
            xf = np.logspace(np.log10(lo), np.log10(hi), 120)
            ax.fill_between(xf, 0, logistic(xf, fits[s][i]), color=palette[s],
                            alpha=fill_alpha[s], lw=0, zorder=1)
    curves = pd.concat(curve_rows, ignore_index=True)
    pts = pd.concat(pt_rows, ignore_index=True)

    for xv in window:
        ax.axvline(xv, color="#BBBBBB", ls=(0, (4, 3)), lw=0.9, zorder=0.5)

    sns.lineplot(data=curves, x="conc", y="od", hue="series", hue_order=series,
                 palette=palette, estimator=None, sort=False, legend=False,
                 lw=1.7, ax=ax, zorder=2)
    sns.scatterplot(data=pts, x="conc", y="od", hue="series", hue_order=series,
                    palette=palette, alpha=0.6, s=26, linewidth=0, legend=False,
                    ax=ax, zorder=3)

    ax.set_xlim(0.22, max(3200, top_conc[i] * 2.1))
    ax.set_ylim(-0.15, 3.22)
    ax.xaxis.set_major_locator(FixedLocator([1, 10, 100, 1000]))
    ax.xaxis.set_major_formatter(FixedFormatter(["1", "10", "100", "1000"]))
    ax.xaxis.set_minor_locator(NullLocator())
    ax.set_yticks([0, 1, 2, 3])
    ax.set_yticklabels(["0", "1", "2", "3"])
    for sp in ["top", "right"]:
        ax.spines[sp].set_visible(False)
    for sp in ["left", "bottom"]:
        ax.spines[sp].set_color("#333333")
        ax.spines[sp].set_linewidth(0.9)
    ax.tick_params(axis="both", length=3, width=0.8, color="#333333",
                   labelsize=7.5, labelcolor="#4D4D4D", pad=1.5, bottom=True, left=True)
    ax.set_xlabel("Concentration (ng/ml)", fontsize=8.4, labelpad=1, color="black")
    ax.set_ylabel("OD", fontsize=8.5, labelpad=2, color="black")
    ax.set_title(name, loc="left", fontsize=10.5, pad=7, color="black")
    ax.set_facecolor("white")

fig.savefig("out.png", dpi=100, facecolor="white")
